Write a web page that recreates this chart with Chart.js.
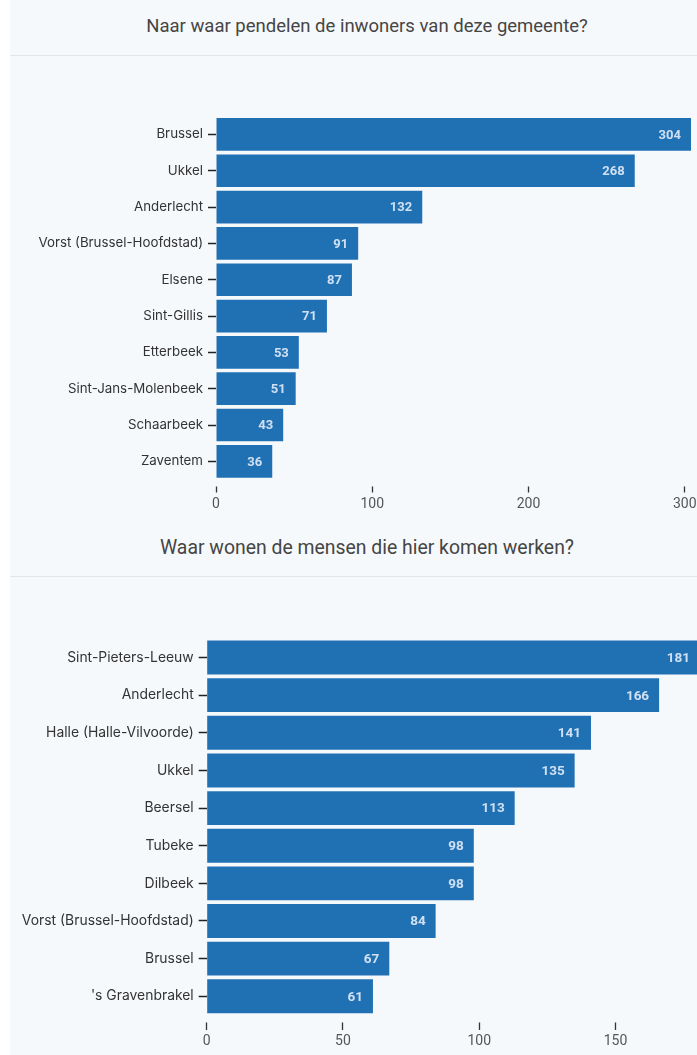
<!DOCTYPE html>
<html><head><meta charset="utf-8">
<script src="https://cdn.jsdelivr.net/npm/chart.js@4.4.1/dist/chart.umd.min.js"></script>
<style>
html,body{margin:0;padding:0;width:697px;height:1055px;overflow:hidden;background:#ffffff;}
.card{position:absolute;left:10px;width:700px;background:#f6f9fc;}
.title{position:absolute;left:0;width:734px;text-align:center;font-family:Roboto,sans-serif;font-size:18.5px;color:#454545;}
.sep{position:absolute;left:10px;width:700px;height:1px;background:#e3e7eb;}
.cv{position:absolute;left:0;}
</style></head>
<body>
<div class="card" style="top:0;height:530px;"></div>
<div class="card" style="top:530px;height:525px;"></div>
<div class="title" style="top:15px;">Naar waar pendelen de inwoners van deze gemeente?</div>
<div class="sep" style="top:55px;"></div>
<div class="title" style="top:536px;font-size:19.4px;">Waar wonen de mensen die hier komen werken?</div>
<div class="sep" style="top:576px;"></div>
<canvas id="c1" class="cv" style="top:57px;" width="697" height="470"></canvas>
<canvas id="c2" class="cv" style="top:577px;" width="702" height="478"></canvas>
<script>
const categories1 = ["Brussel","Ukkel","Anderlecht","Vorst (Brussel-Hoofdstad)","Elsene","Sint-Gillis","Etterbeek","Sint-Jans-Molenbeek","Schaarbeek","Zaventem"];
const values1 = [304,268,132,91,87,71,53,51,43,36];
const xTicks1 = [0,100,200,300];
const xMax1 = 304;
const categories2 = ["Sint-Pieters-Leeuw","Anderlecht","Halle (Halle-Vilvoorde)","Ukkel","Beersel","Tubeke","Dilbeek","Vorst (Brussel-Hoofdstad)","Brussel","'s Gravenbrakel"];
const values2 = [181,166,141,135,113,98,98,84,67,61];
const xTicks2 = [0,50,100,150];
const xMax2 = 181;

function makeLabelPlugin(size){
  return {
    id:'barLabels',
    afterDatasetsDraw(chart){
      const ctx = chart.ctx;
      const meta = chart.getDatasetMeta(0);
      const data = chart.data.datasets[0].data;
      ctx.save();
      ctx.font = 'bold ' + size + 'px Roboto, sans-serif';
      ctx.fillStyle = '#cfe0f2';
      ctx.textAlign = 'right';
      ctx.textBaseline = 'middle';
      meta.data.forEach((el,i)=>{
        ctx.fillText(String(data[i]), el.x - 10, el.y + 1);
      });
      ctx.restore();
    }
  };
}

function makeChart(id, cats, vals, xMax, tickVals, yWidth, padTop, padRight, xHeight, tickLen, dash, tickPad, yFont, lblSize){
  return new Chart(document.getElementById(id), {
    type:'bar',
    data:{labels:cats, datasets:[{data:vals, backgroundColor:'#2070b4', borderWidth:0, barPercentage:0.9, categoryPercentage:1}]},
    plugins:[makeLabelPlugin(lblSize)],
    options:{
      indexAxis:'y', responsive:false, animation:false, devicePixelRatio:1,
      layout:{padding:{top:padTop, right:padRight, left:0, bottom:0}},
      plugins:{legend:{display:false}, tooltip:{enabled:false}},
      scales:{
        x:{
          min:0, max:xMax,
          border:{display:false},
          grid:{drawOnChartArea:false, drawTicks:true, tickLength:tickLen, tickColor:'#333', tickWidth:1.3, tickBorderDash:dash},
          ticks:{padding:tickPad, color:'#555', font:{family:'Roboto, sans-serif', size:14}, maxRotation:0, autoSkip:false},
          afterBuildTicks(s){ s.ticks = tickVals.map(v=>({value:v})); },
          afterFit(s){ s.height = xHeight; s.paddingLeft = 0; s.paddingRight = 0; }
        },
        y:{
          border:{display:false},
          grid:{offset:false, drawOnChartArea:false, drawTicks:true, tickLength:8, tickColor:'#222', tickWidth:1.5},
          ticks:{padding:5, color:'#333', font:{family:'Inter, sans-serif', size:yFont}, autoSkip:false},
          afterFit(s){ s.width = yWidth; s.paddingTop = 0; s.paddingBottom = 0; }
        }
      }
    }
  });
}

makeChart('c1', categories1, values1, xMax1, xTicks1, 216, 59.3, 6, 47.5, 13, [0,6.5,6.5,100], 3.5, 13.3, 13);
makeChart('c2', categories2, values2, xMax2, xTicks2, 206.7, 61.7, 2, 39.9, 15, [0,7.6,7.4,100], 3, 13.9, 13.5);
</script>
</body></html>
